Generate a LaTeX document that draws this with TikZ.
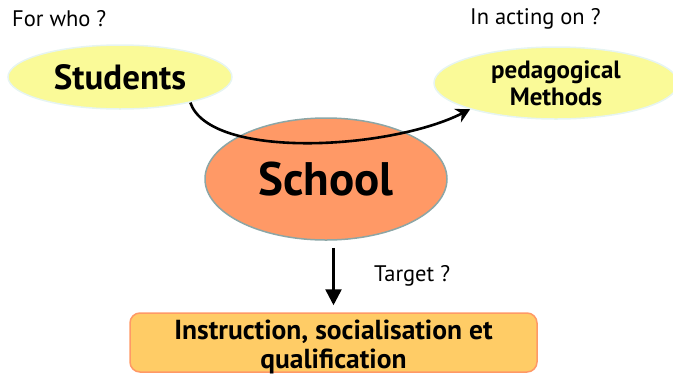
\documentclass[tikz,border=0pt]{standalone}
\usepackage{fontspec}
\setmainfont{PT Sans}
\usetikzlibrary{shapes.geometric,arrows.meta}
\definecolor{paleyellow}{HTML}{FAFA98}
\definecolor{paleedge}{HTML}{E6F4F2}
\definecolor{salmon}{HTML}{FF9966}
\definecolor{greyedge}{HTML}{8CA6A6}
\definecolor{lightorange}{HTML}{FFCC66}
\tikzset{
    question/.style={font=\fontsize{22.5}{24}\selectfont, inner sep=0pt},
    actor/.style={ellipse, fill=paleyellow, draw=paleedge, line width=1.5pt, inner sep=0pt, align=center},
    curvearrow/.style={line width=2.6pt, -{Stealth[length=14pt,width=15pt]}},
    downarrow/.style={line width=2.6pt, -{Triangle[length=16pt,width=16pt]}}
}
\begin{document}
\begin{tikzpicture}[x=1pt,y=-1pt]
        \useasboundingbox (0,0) rectangle (673,376);
        \node[question,anchor=west] (forwho) at (12,19) {For who ?};
        \node[question,anchor=west] (acting) at (470,19) {In acting on ?};
        %
        \node[actor,minimum width=224pt,minimum height=64pt,font=\fontsize{35}{38}\bfseries] (stud) at (120,77) {Students};
        \node[actor,minimum width=244pt,minimum height=72pt,font=\fontsize{25}{27}\bfseries] (meth) at (556,83) {pedagogical\\Methods};
        %
        \node[ellipse,fill=salmon,draw=greyedge,line width=1.5pt,minimum width=242pt,minimum height=122pt,inner sep=0pt,font=\fontsize{47}{50}\bfseries] (school) at (326,179) {School};
        %
        \draw[curvearrow] (stud.-20) .. controls (210,160) and (390,150) .. (meth.197);
        %
        \node[draw=salmon,fill=lightorange,line width=1.5pt,rounded corners=10pt,minimum width=407pt,minimum height=59pt,inner sep=0pt] (box) at (333.5,342.5) {};
        \node[align=center,inner sep=0pt,font=\fontsize{27.5}{29}\bfseries] (boxtext) at (333.5,347) {Instruction, socialisation et\\qualification};
        \draw[downarrow,shorten <=7pt,shorten >=7pt] (school.south -| box.north) -- (box.north);
        \node[question,anchor=west] (target) at (374,276) {Target ?};
    \end{tikzpicture}
\end{document}
